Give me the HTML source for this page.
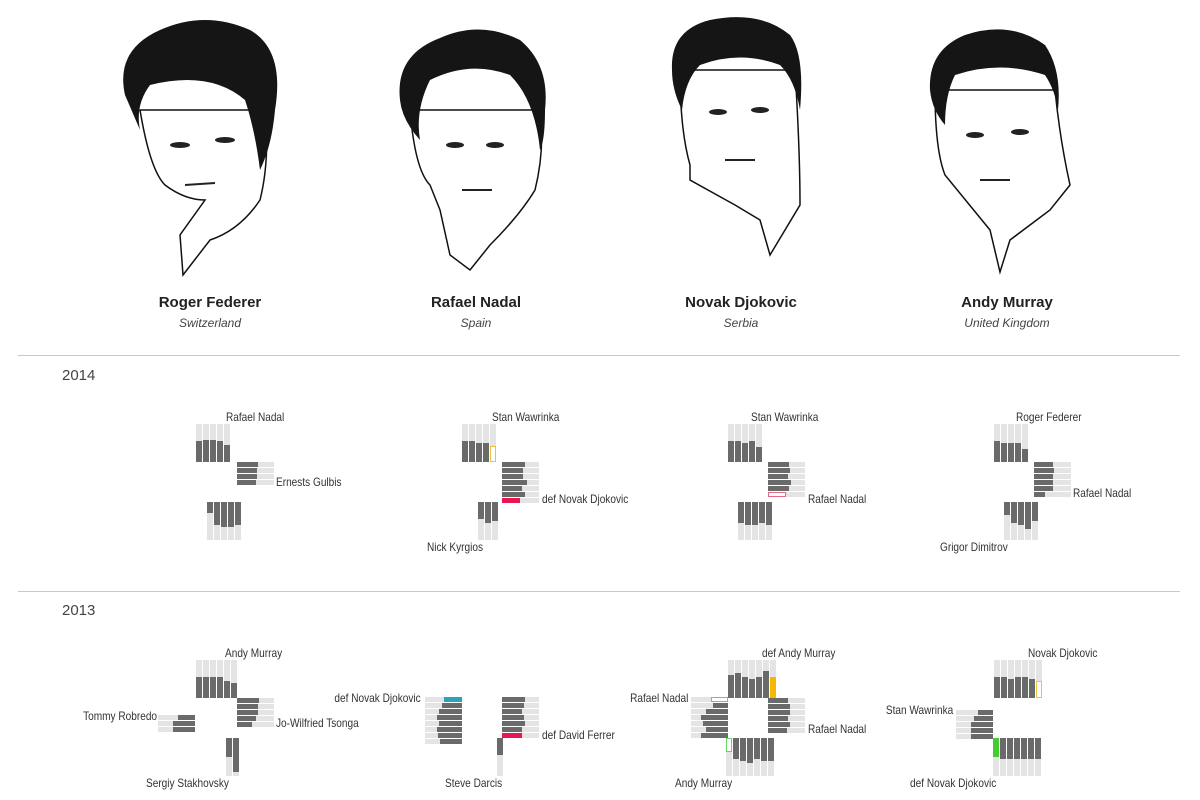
<!DOCTYPE html>
<html><head><meta charset="utf-8">
<style>
body{margin:0;width:1200px;height:800px;background:#fff;position:relative;overflow:hidden;font-family:"Liberation Sans Narrow","Liberation Sans",sans-serif;color:#333}
.a{position:absolute}
.nm{position:absolute;font-family:"Liberation Sans",sans-serif;font-weight:bold;font-size:15px;color:#222;text-align:center;width:200px}
.ct{position:absolute;font-family:"Liberation Sans",sans-serif;font-style:italic;font-size:12px;color:#444;text-align:center;width:200px}
.hr{position:absolute;left:18px;width:1162px;height:1px;background:#c8c8c8}
.yr{position:absolute;left:62px;font-family:"Liberation Sans",sans-serif;font-size:15px;color:#444}
.lb{position:absolute;font-size:12px;color:#333;white-space:nowrap;transform:scaleX(0.84);transform-origin:left top}
.rb{position:absolute;font-size:12px;color:#333;white-space:nowrap;transform:scaleX(0.84);transform-origin:right top;text-align:right}
</style></head><body>
<svg class="a" style="left:0;top:0" width="1200" height="290">
<g fill="#fff" stroke="#111" stroke-width="1.5">
<path d="M140 110 Q150 170 165 185 Q185 200 205 200 L180 235 L183 275 L210 240 Q240 230 260 200 Q270 160 265 110 Z"/>
<path d="M410 110 Q415 170 430 185 L440 210 L450 255 L470 270 L490 245 Q520 215 535 190 Q545 150 540 110 Z"/>
<path d="M680 70 Q680 130 690 165 L690 180 L735 205 L760 220 L770 255 L800 205 Q800 150 795 70 Z"/>
<path d="M935 90 Q935 150 945 175 L990 230 L1000 272 L1010 240 L1050 210 L1070 185 Q1060 140 1055 90 Z"/>
</g>
<g fill="#151515">
<path d="M125 95 Q115 50 160 30 Q205 10 250 30 Q285 50 275 110 Q272 145 260 170 Q255 130 245 100 Q210 70 150 85 Q135 105 140 130 Z"/>
<path d="M400 100 Q395 55 440 38 Q480 20 520 40 Q550 65 545 110 Q545 140 540 150 Q535 100 510 75 Q470 60 430 80 Q415 110 420 140 Q402 120 400 100 Z"/>
<path d="M672 70 Q670 30 710 20 Q760 10 790 35 Q805 55 800 110 Q795 80 780 65 Q740 50 700 65 Q685 80 682 110 Q672 90 672 70 Z"/>
<path d="M930 90 Q928 50 965 35 Q1010 20 1045 45 Q1062 70 1058 110 Q1055 90 1045 75 Q1000 60 955 75 Q945 95 945 125 Q932 110 930 90 Z"/>
</g>
<g fill="#222">
<ellipse cx="180" cy="145" rx="10" ry="3"/><ellipse cx="225" cy="140" rx="10" ry="3"/><path d="M185 185 L215 183" stroke="#222" stroke-width="2"/>
<ellipse cx="455" cy="145" rx="9" ry="3"/><ellipse cx="495" cy="145" rx="9" ry="3"/><path d="M462 190 L492 190" stroke="#222" stroke-width="2"/>
<ellipse cx="718" cy="112" rx="9" ry="3"/><ellipse cx="760" cy="110" rx="9" ry="3"/><path d="M725 160 L755 160" stroke="#222" stroke-width="2"/>
<ellipse cx="975" cy="135" rx="9" ry="3"/><ellipse cx="1020" cy="132" rx="9" ry="3"/><path d="M980 180 L1010 180" stroke="#222" stroke-width="2"/>
</g>
</svg>
<div class="nm" style="left:110px;top:294px">Roger Federer</div><div class="ct" style="left:110px;top:316px">Switzerland</div>
<div class="nm" style="left:376px;top:294px">Rafael Nadal</div><div class="ct" style="left:376px;top:316px">Spain</div>
<div class="nm" style="left:641px;top:294px">Novak Djokovic</div><div class="ct" style="left:641px;top:316px">Serbia</div>
<div class="nm" style="left:907px;top:294px">Andy Murray</div><div class="ct" style="left:907px;top:316px">United Kingdom</div>
<div class="hr" style="top:355px"></div><div class="yr" style="top:367px">2014</div>
<div class="hr" style="top:591px"></div><div class="yr" style="top:602px">2013</div>

<div class="lb" style="left:226px;top:410px">Rafael Nadal</div>
<div class="lb" style="left:276px;top:475px">Ernests Gulbis</div>
<div class="lb" style="left:492px;top:410px">Stan Wawrinka</div>
<div class="lb" style="left:542px;top:492px">def Novak Djokovic</div>
<div class="lb" style="left:427px;top:540px">Nick Kyrgios</div>
<div class="lb" style="left:751px;top:410px">Stan Wawrinka</div>
<div class="lb" style="left:808px;top:492px">Rafael Nadal</div>
<div class="lb" style="left:1016px;top:410px">Roger Federer</div>
<div class="lb" style="left:1073px;top:486px">Rafael Nadal</div>
<div class="lb" style="left:940px;top:540px">Grigor Dimitrov</div>

<div class="lb" style="left:225px;top:646px">Andy Murray</div>
<div class="lb" style="left:276px;top:716px">Jo-Wilfried Tsonga</div>
<div class="rb" style="right:1043px;top:709px">Tommy Robredo</div>
<div class="lb" style="left:146px;top:776px">Sergiy Stakhovsky</div>
<div class="rb" style="right:779px;top:691px">def Novak Djokovic</div>
<div class="lb" style="left:542px;top:728px">def David Ferrer</div>
<div class="lb" style="left:445px;top:776px">Steve Darcis</div>
<div class="lb" style="left:762px;top:646px">def Andy Murray</div>
<div class="rb" style="right:512px;top:691px">Rafael Nadal</div>
<div class="lb" style="left:808px;top:722px">Rafael Nadal</div>
<div class="lb" style="left:675px;top:776px">Andy Murray</div>
<div class="lb" style="left:1028px;top:646px">Novak Djokovic</div>
<div class="rb" style="right:247px;top:703px">Stan Wawrinka</div>
<div class="lb" style="left:910px;top:776px">def Novak Djokovic</div>

<div id="g"></div>
<script>
var g=document.getElementById('g'),h='';
function box(x,y,w,hh,c,o){h+='<div class="a" style="left:'+x+'px;top:'+y+'px;width:'+w+'px;height:'+hh+'px;background:'+c+(o?';box-sizing:border-box;border:1.5px solid '+o+';background:#fff':'')+'"></div>';}
function V(x,y,f,dir,sp){for(var i=0;i<f.length;i++){var cx=x+i*7,L=38;box(cx,y,6,L,'#e4e4e4');var d=Math.round(L*f[i]);
 var s=sp&&sp[i];if(s){var hh=s.h||20;if(dir=='up')box(cx,y+L-hh,6,hh,s.c,s.o);else box(cx,y,6,hh,s.c,s.o);continue;}
 if(dir=='up')box(cx,y+L-d,6,d,'#6a6a6a');else box(cx,y,6,d,'#6a6a6a');}}
function H(x,y,f,dir,sp){for(var i=0;i<f.length;i++){var cy=y+i*6,L=37;box(x,cy,L,5,'#e4e4e4');var d=Math.round(L*f[i]);
 var s=sp&&sp[i];if(s){var w=s.w||20;if(dir=='r')box(x,cy,w,5,s.c,s.o);else box(x+L-w,cy,w,5,s.c,s.o);continue;}
 if(dir=='r')box(x,cy,d,5,'#6a6a6a');else box(x+L-d,cy,d,5,'#6a6a6a');}}
V(196,424,[.55,.57,.57,.55,.45],'up');H(237,462,[.58,.55,.55,.5],'r');V(207,502,[.3,.6,.65,.65,.6],'down');
V(462,424,[.55,.55,.5,.5,0],'up',{4:{c:'#fff',o:'#f0c040',h:16}});H(502,462,[.62,.58,.58,.67,.55,.62,0],'r',{6:{c:'#e8174f',w:18}});V(478,502,[.45,.55,.5],'down');
V(728,424,[.55,.55,.5,.55,.4],'up');H(768,462,[.58,.6,.55,.62,.58,0],'r',{5:{c:'#fff',o:'#e06a8a',w:18}});V(738,502,[.55,.6,.6,.55,.6],'down');
V(994,424,[.55,.5,.5,.5,.35],'up');H(1034,462,[.5,.55,.5,.5,.5,.3],'r');V(1004,502,[.35,.55,.6,.7,.5],'down');
V(196,660,[.55,.55,.55,.55,.45,.4],'up');H(237,698,[.6,.58,.58,.52,.4],'r');H(158,715,[.45,.6,.6],'l');V(226,738,[.5,.9],'down');
H(425,697,[0,.55,.62,.68,.62,.68,.65,.6],'l',{0:{c:'#2ba3b8',w:18}});H(502,697,[.62,.6,.55,.6,.62,.55,0],'r',{6:{c:'#e8174f',w:20}});V(497,738,[.45],'down');
V(728,660,[.6,.65,.55,.5,.55,.7,0],'up',{6:{c:'#f5b800',h:21}});H(768,698,[.55,.6,.6,.55,.6,.5],'r');H(691,697,[0,.4,.6,.72,.68,.6,.72],'l',{0:{c:'#fff',o:'#5fc0cc',w:17}});V(726,738,[0,.55,.6,.65,.55,.6,.6],'down',{0:{c:'#fff',o:'#66d466',h:14}});
V(994,660,[.55,.55,.5,.55,.55,.5,0],'up',{6:{c:'#fff',o:'#f0c040',h:17}});H(956,710,[.4,.5,.6,.6,.6],'l');V(993,738,[0,.55,.55,.55,.55,.55,.55],'down',{0:{c:'#44cc33',h:19}});
g.innerHTML=h;
</script>
</body></html>
